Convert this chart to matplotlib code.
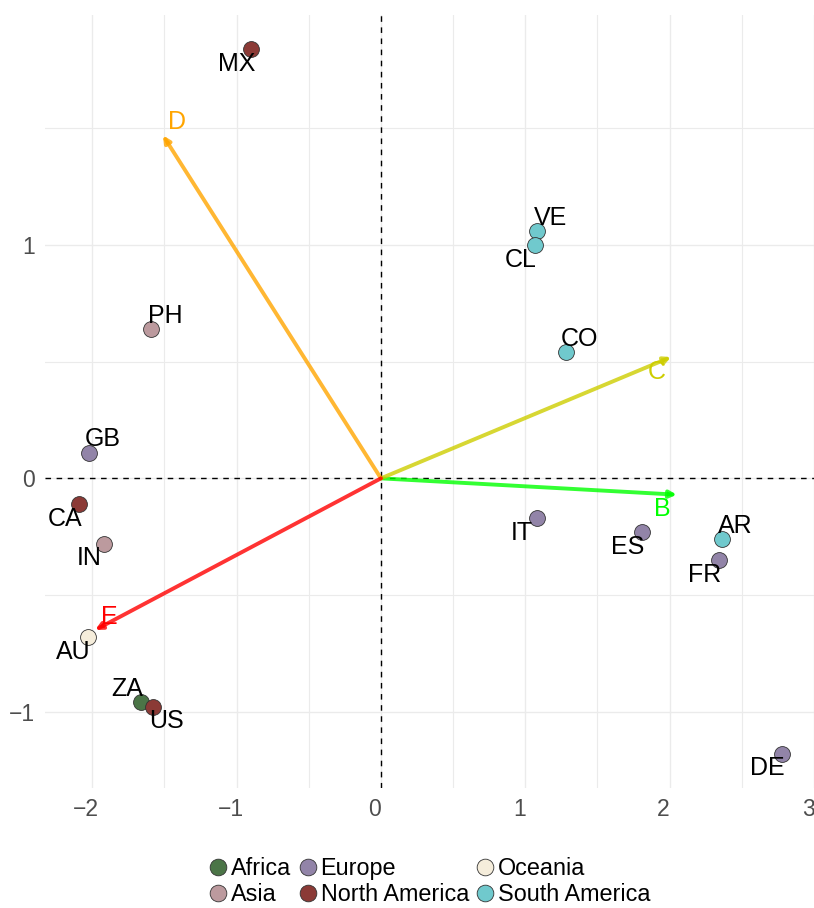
import matplotlib.pyplot as plt
from matplotlib.lines import Line2D
from matplotlib.transforms import ScaledTranslation

plt.rcParams['font.family'] = ['Liberation Sans', 'DejaVu Sans']

# country scores on the first two components
countries = ['MX', 'VE', 'CL', 'PH', 'CO', 'GB', 'CA', 'IN', 'AU', 'ZA',
             'US', 'IT', 'ES', 'AR', 'FR', 'DE']
continent = ['North America', 'South America', 'South America', 'Asia',
             'South America', 'Europe', 'North America', 'Asia', 'Oceania',
             'Africa', 'North America', 'Europe', 'Europe', 'South America',
             'Europe', 'Europe']
pc1 = [-0.90, 1.08, 1.07, -1.59, 1.28, -2.02, -2.09, -1.92, -2.03, -1.66,
       -1.58, 1.08, 1.81, 2.36, 2.34, 2.78]
pc2 = [1.84, 1.06, 1.00, 0.64, 0.54, 0.11, -0.11, -0.28, -0.68, -0.96,
       -0.98, -0.17, -0.23, -0.26, -0.35, -1.18]

# variable loadings
variables = ['B', 'C', 'D', 'E']
load1 = [2.05, 2.01, -1.51, -1.98]
load2 = [-0.07, 0.52, 1.47, -0.65]

continents = ['Africa', 'Asia', 'Europe', 'North America', 'Oceania', 'South America']
cont_colors = ['#4B7547', '#BC9A9E', '#9284A8', '#8B3A36', '#F5EDDB', '#70C9CD']
var_colors = ['#00FF00', '#CDCD00', '#FFA500', '#FF0000']

# label placement around each mark (offset in points)
offsets = {'ur': (10, 9.5), 'll': (-10.5, -10.5), 'ul': (-10, 9.5), 'lr': (10, -10)}
country_pos = ['ll', 'ur', 'll', 'ur', 'ur', 'ur', 'll', 'll', 'll', 'ul',
               'lr', 'll', 'll', 'ur', 'll', 'll']
var_pos = ['ll', 'll', 'ur', 'ur']

fig = plt.figure(figsize=(8.14, 9.08), dpi=100)
ax = fig.add_axes([0.0553, 0.1322, 0.9447, 0.8513])

ax.set_xlim(-2.327, 2.99)
ax.set_ylim(-1.327, 1.986)
ax.set_xticks([-2, -1, 0, 1, 2, 3])
ax.set_xticks([-1.5, -0.5, 0.5, 1.5, 2.5], minor=True)
ax.set_yticks([-1, 0, 1])
ax.set_yticks([-0.5, 0.5, 1.5], minor=True)
ax.set_xticklabels(['\u22122', '\u22121', '0', '1', '2', '3'])
ax.set_yticklabels(['\u22121', '0', '1'])
ax.grid(True, which='major', color='#EBEBEB', lw=1.0)
ax.grid(True, which='minor', color='#EBEBEB', lw=0.8)
ax.set_axisbelow(True)
ax.tick_params(which='both', length=0, labelsize=16.5, labelcolor='#4D4D4D')
ax.tick_params(axis='x', pad=7)
ax.tick_params(axis='y', pad=7)
for s in ax.spines.values():
    s.set_visible(False)

# nudge x tick labels slightly left so the last one stays inside the figure
shift = ScaledTranslation(-6 / 100, 0, fig.dpi_scale_trans)
for lbl in ax.get_xticklabels():
    lbl.set_transform(lbl.get_transform() + shift)

ax.axhline(0, color='black', lw=1.0, ls=(0, (4, 4)), zorder=1)
ax.axvline(0, color='black', lw=1.0, ls=(0, (4, 4)), zorder=1)

# loading arrows
for v, x, y, c, p in zip(variables, load1, load2, var_colors, var_pos):
    ax.annotate('', xy=(x, y), xytext=(0, 0),
                arrowprops=dict(arrowstyle='-|>', color=c, alpha=0.8, lw=2.8,
                                mutation_scale=10, shrinkA=0, shrinkB=0),
                zorder=2)
    ax.annotate(v, (x, y), xytext=offsets[p], textcoords='offset points',
                ha='center', va='center', fontsize=18, color=c, zorder=4)

# country points
for cname, col in zip(continents, cont_colors):
    xs = [x for x, k in zip(pc1, continent) if k == cname]
    ys = [y for y, k in zip(pc2, continent) if k == cname]
    ax.scatter(xs, ys, s=130, color=col, edgecolor='#333333', linewidth=0.6,
               zorder=3)

for name, x, y, p in zip(countries, pc1, pc2, country_pos):
    ax.annotate(name, (x, y), xytext=offsets[p], textcoords='offset points',
                ha='center', va='center', fontsize=18, color='black', zorder=4)

handles = [Line2D([], [], marker='o', ls='', markersize=12,
                  markerfacecolor=col, markeredgecolor='#333333',
                  markeredgewidth=0.6)
           for col in cont_colors]
fig.legend(handles, continents, loc='center', bbox_to_anchor=(0.528, 0.029),
           ncol=3, frameon=False, fontsize=16.8, handlelength=0.8,
           handletextpad=0.15, columnspacing=0.3, labelspacing=0.15,
           borderpad=0)

fig.savefig('out.png', dpi=100)
